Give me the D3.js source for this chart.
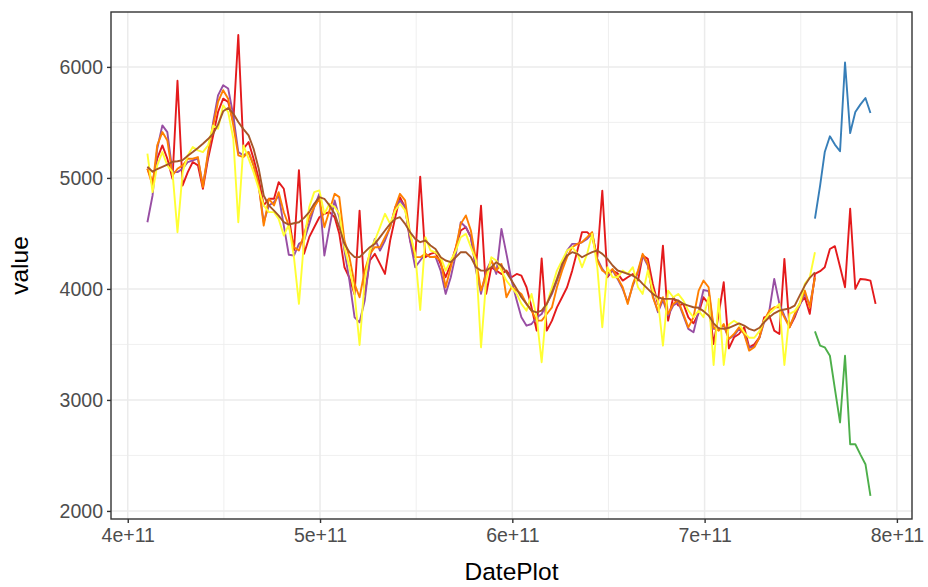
<!DOCTYPE html>
<html>
<head>
<meta charset="utf-8">
<script src="https://cdn.jsdelivr.net/npm/d3@7"></script>
<style>
  body { margin: 0; background: #fff; }
  text { font-family: "Liberation Sans", Arial, sans-serif; }
</style>
</head>
<body>
<div id="container"></div>
<script>
// monthly values, Jan 1983 onwards
var red = [
  5083, 4962, 5173, 5293, 5173, 4992, 5875, 4932, 5052, 5143,
  5113, 4902, 5173, 5383, 5594, 5714, 5684, 5504, 6287, 5263,
  5323, 5173, 4992, 4752, 4812, 4812, 4962, 4902, 4650, 4346,
  5070, 4316, 4466, 4556, 4646, 4677, 4692, 4646, 4496, 4195,
  4100, 3950, 4705, 3950, 4256, 4316, 4226, 4135, 4436, 4646,
  4827, 4737, 4436, 4286, 5012, 4286, 4316, 4330, 4226, 4105,
  4226, 4376, 4526, 4556, 4466, 4195, 4750, 3955, 4195, 4165,
  4135, 4165, 4105, 4135, 4120, 4015, 3834, 3624, 4275, 3624,
  3714, 3834, 3925, 4015, 4165, 4346, 4512, 4512, 4466, 4286,
  4885, 4105, 4166, 4140, 4075, 4105, 4135, 4075, 4301, 4271,
  4045, 3865, 4390, 3714, 3925, 3850, 3865, 3744, 3690, 3780,
  3925, 3865, 3504, 3775, 4060, 3465, 3564, 3594, 3654, 3474,
  3500, 3564, 3744, 3760, 3624, 3594, 4271, 3654, 3744, 3865,
  3925, 3775, 4135, 4160, 4195, 4360, 4385, 4200, 4015, 4722,
  4000, 4090, 4085, 4075, 3865
];
var purple = [
  4601, 4842, 5263, 5473, 5413, 5052, 5052, 5083, 5143, 5158,
  5173, 4932, 5203, 5504, 5744, 5835, 5805, 5564, 5233, 5203,
  5233, 5113, 4932, 4601, 4752, 4782, 4842, 4571, 4308, 4301,
  4406, 4436, 4586, 4737, 4857, 4301, 4556, 4797, 4646, 4346,
  4075, 3744, 3699, 3895, 4286, 4451, 4346, 4436, 4556, 4737,
  4797, 4737, 4436, 4195, 4256, 4316, 4286, 4290, 4165, 3955,
  4105, 4316, 4601, 4556, 4466, 4165, 3955, 4165, 4256, 4135,
  4541, 4316, 4075, 3895, 3744, 3669, 3684, 3744, 3774, 3865,
  3955, 4075, 4195, 4346, 4406, 4406, 4420, 4450, 4500, 4270,
  4180, 4120, 4170, 4090, 4000, 3880, 4030, 4150, 4300, 4210,
  3940, 3790, 3900, 3760, 3850, 3880, 3760, 3640, 3610, 3800,
  3990, 3980, 3640, 3640, 3670, 3550, 3580, 3640, 3600, 3470,
  3480, 3560, 3700, 3800, 4090, 3865, 3760, 3660, 3760, 3850,
  3960, 3850, 4100
];
var orange = [
  5083, 4930, 5293, 5413, 5338, 5022, 5083, 5113, 5173, 5173,
  5188, 4917, 5233, 5473, 5684, 5790, 5714, 5473, 5203, 5188,
  5233, 5113, 4932, 4571, 4812, 4752, 4872, 4691, 4571, 4376,
  4346, 4496, 4646, 4737, 4812, 4556, 4707, 4857, 4827, 4436,
  4286, 4045, 3925, 4165, 4316, 4376, 4376, 4466, 4556, 4737,
  4857, 4797, 4496, 4286, 4286, 4316, 4286, 4290, 4256, 4015,
  4195, 4376, 4586, 4662, 4526, 4256, 3985, 4135, 4256, 4165,
  4225, 3925, 4015, 3985, 3955, 3865, 3804, 3714, 3714, 3774,
  3834, 4015, 4165, 4286, 4376, 4406, 4421, 4466, 4512, 4256,
  4166, 4135, 4180, 4100, 4015, 3865, 4045, 4166, 4316, 4226,
  3925, 3805, 3925, 3774, 3865, 3895, 3774, 3654, 3745, 3985,
  4075, 4015, 3654, 3624, 3684, 3550, 3594, 3654, 3594, 3444,
  3474, 3564, 3714, 3805, 3835, 3835, 3744, 3654, 3774, 3865,
  3985, 3835, 4105
];
var yellow = [
  5218, 4872, 5113, 5233, 5113, 5052, 4511, 5052, 5203, 5278,
  5248, 5233, 5293, 5473, 5443, 5654, 5594, 5353, 4601, 5293,
  5173, 5052, 4902, 4752, 4692, 4692, 4631, 4481, 4580, 4286,
  3865, 4436, 4737, 4872, 4887, 4677, 4767, 4737, 4677, 4376,
  4195, 3955, 3495, 4075, 4346, 4436, 4556, 4677, 4586, 4707,
  4767, 4707, 4496, 4316, 3810, 4466, 4346, 4330, 4286, 4165,
  4256, 4346, 4466, 4496, 4376, 4256, 3474, 4075, 4286, 4256,
  4165, 4075, 4015, 3955, 3865, 3804, 3955, 3744, 3340, 3865,
  4015, 4165, 4256, 4346, 4376, 4316, 4195, 4316, 4496, 4196,
  3655, 4196, 4105, 4105, 4165, 4135, 4196, 4015, 3955, 4166,
  3985, 3895, 3490, 3985, 3925, 3955, 3895, 3805, 3745, 3805,
  3745, 3925, 3315, 3910, 3315, 3680, 3714, 3684, 3609, 3560,
  3560, 3620, 3714, 3775, 3820, 3865, 3315, 3775, 3800, 3865,
  4045, 4105, 4330
];
var brown = [
  5100, 5056, 5080, 5100, 5120, 5146, 5150, 5160, 5200, 5233,
  5270, 5308, 5350, 5400, 5480, 5600, 5630, 5580, 5504, 5440,
  5383, 5263, 5083, 4842, 4752, 4706, 4661, 4601, 4580, 4592,
  4601, 4640, 4692, 4767, 4827, 4812, 4752, 4677, 4556, 4406,
  4331, 4286, 4286, 4331, 4376, 4406, 4466, 4526, 4586, 4631,
  4646, 4586, 4511, 4451, 4421, 4436, 4391, 4360, 4286, 4256,
  4241, 4286, 4331, 4331, 4286, 4195, 4165, 4165, 4195, 4241,
  4210, 4150, 4075, 4000, 3925, 3865, 3804, 3789, 3804, 3865,
  3970, 4090, 4225, 4301, 4331, 4316, 4285, 4310, 4331, 4346,
  4316, 4271, 4211, 4166, 4151, 4136, 4120, 4090, 4045, 4000,
  3955, 3925, 3910, 3910, 3910, 3895, 3865, 3850, 3835, 3830,
  3800, 3760, 3690, 3645, 3640, 3650, 3670, 3690, 3670, 3640,
  3625, 3650, 3700, 3745, 3780, 3805, 3815, 3825, 3850, 3940,
  4030, 4100, 4150
];
// from Jan 1994
var blue = [4634, 4930, 5233, 5375, 5300, 5240, 6040, 5404, 5594, 5660, 5720, 5585];
var green = [3618, 3489, 3474, 3398, 3100, 2797, 3398, 2601, 2601, 2510, 2421, 2135];

var xTicks = [4e11, 5e11, 6e11, 7e11, 8e11];
var yTicks = [2000, 3000, 4000, 5000, 6000];

var width = 928, height = 587;
var margin = {top: 12, right: 16, bottom: 68, left: 111};

var months = d3.utcMonth.range(new Date(Date.UTC(1983, 0, 1)), new Date(Date.UTC(1995, 1, 1)));

var series = [
  {values: red, start: 0, color: "#E41A1C"},
  {values: blue, start: 132, color: "#377EB8"},
  {values: green, start: 132, color: "#4DAF4A"},
  {values: purple, start: 0, color: "#984EA3"},
  {values: orange, start: 0, color: "#FF7F00"},
  {values: yellow, start: 0, color: "#FFFF33"},
  {values: brown, start: 0, color: "#A65628"}
];
series.forEach(function(s) {
  s.points = s.values.map(function(v, i) { return {t: +months[s.start + i], v: v}; });
});

function expand(ext) {
  var pad = (ext[1] - ext[0]) * 0.05;
  return [ext[0] - pad, ext[1] + pad];
}
var allPts = d3.merge(series.map(function(s) { return s.points; }));

var x = d3.scaleLinear()
  .domain(expand(d3.extent(allPts, function(d) { return d.t; })))
  .range([margin.left, width - margin.right]);
var y = d3.scaleLinear()
  .domain(expand(d3.extent(allPts, function(d) { return d.v; })))
  .range([height - margin.bottom, margin.top]);

var svg = d3.select("#container").append("svg")
  .attr("width", width)
  .attr("height", height);

var pw = width - margin.left - margin.right;
var ph = height - margin.top - margin.bottom;

svg.append("rect")
  .attr("x", margin.left).attr("y", margin.top)
  .attr("width", pw).attr("height", ph)
  .style("fill", "#fff");

// minor grid
var xMinor = xTicks.slice(0, -1).map(function(d) { return d + 0.5e11; });
var yMinor = yTicks.slice(0, -1).map(function(d) { return d + 500; });
var grid = svg.append("g").attr("stroke", "#EBEBEB");
grid.selectAll(".xm").data(xMinor).enter().append("line")
  .attr("x1", x).attr("x2", x)
  .attr("y1", margin.top).attr("y2", margin.top + ph)
  .attr("stroke-width", 0.8);
grid.selectAll(".ym").data(yMinor).enter().append("line")
  .attr("y1", y).attr("y2", y)
  .attr("x1", margin.left).attr("x2", margin.left + pw)
  .attr("stroke-width", 0.8);
// major grid
grid.selectAll(".xM").data(xTicks).enter().append("line")
  .attr("x1", x).attr("x2", x)
  .attr("y1", margin.top).attr("y2", margin.top + ph)
  .attr("stroke-width", 1.5);
grid.selectAll(".yM").data(yTicks).enter().append("line")
  .attr("y1", y).attr("y2", y)
  .attr("x1", margin.left).attr("x2", margin.left + pw)
  .attr("stroke-width", 1.5);

var line = d3.line()
  .x(function(d) { return x(d.t); })
  .y(function(d) { return y(d.v); });

svg.append("g").selectAll("path")
  .data(series)
  .enter()
  .append("path")
  .attr("d", function(s) { return line(s.points); })
  .attr("fill", "none")
  .attr("stroke", function(s) { return s.color; })
  .attr("stroke-width", 1.9)
  .attr("stroke-linejoin", "round");

svg.append("rect")
  .attr("x", margin.left).attr("y", margin.top)
  .attr("width", pw).attr("height", ph)
  .style("fill", "none")
  .style("stroke", "#333333")
  .style("stroke-width", 1.4);

var xAxis = svg.append("g")
  .attr("transform", "translate(0," + (margin.top + ph) + ")")
  .call(d3.axisBottom(x).tickValues(xTicks).tickSize(4).tickPadding(5)
    .tickFormat(function(d) { return (d / 1e11) + "e+11"; }));
var yAxis = svg.append("g")
  .attr("transform", "translate(" + margin.left + ",0)")
  .call(d3.axisLeft(y).tickValues(yTicks).tickSize(4).tickPadding(4)
    .tickFormat(d3.format("d")));

[xAxis, yAxis].forEach(function(a) {
  a.select(".domain").remove();
  a.selectAll(".tick line").attr("stroke", "#333333").attr("stroke-width", 1.4);
  a.selectAll(".tick text")
    .attr("fill", "#4D4D4D")
    .style("font-size", "19.5px")
    .style("font-family", "'Liberation Sans', Arial, sans-serif");
});

svg.append("text")
  .attr("x", margin.left + pw / 2)
  .attr("y", 580)
  .attr("text-anchor", "middle")
  .style("font-size", "24.5px")
  .attr("fill", "#000")
  .text("DatePlot");

svg.append("text")
  .attr("transform", "translate(28," + (margin.top + ph / 2) + ") rotate(-90)")
  .attr("text-anchor", "middle")
  .style("font-size", "24.5px")
  .attr("fill", "#000")
  .text("value");
</script>
</body>
</html>
